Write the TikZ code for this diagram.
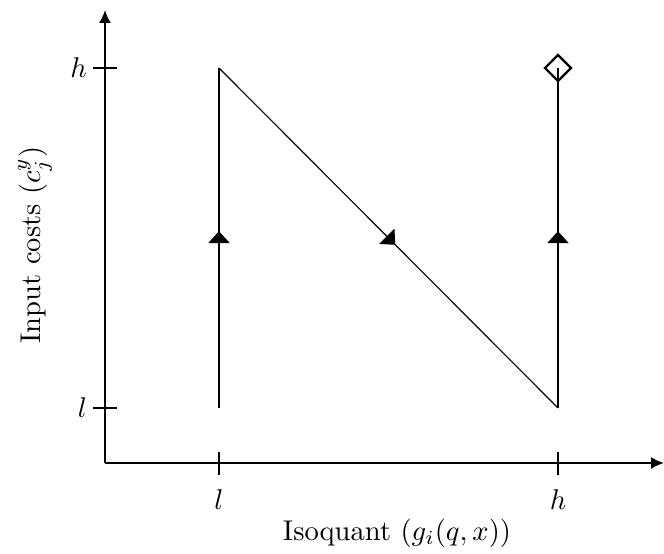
\documentclass[tikz,border=0pt]{standalone}
\usetikzlibrary{arrows.meta,decorations.markings,shapes.geometric}
\begin{document}
\begin{tikzpicture}[x=0.35pt, y=-0.35pt,
  axis/.style={thick, -{Latex[length=4.5pt, width=4.2pt]}},
  tick/.style={thin},
  path/.style={thin, postaction={decorate}, decoration={markings,
      mark=at position 0.52 with {\arrow{Triangle[length=4.2pt, width=7.5pt]}}}},
  endmark/.style={draw, diamond, thick, inner sep=0pt, minimum size=9.5pt}]
\useasboundingbox (0,0) rectangle (664,554);
% axes
\coordinate (o) at (105,463);
\coordinate (ytop) at (105,10);
\coordinate (xend) at (664,463);
\draw[axis] (o) -- (ytop);
\draw[axis] (o) -- (xend);
% ticks
\draw[tick] (219,452) -- (219,475) node[below=1.5pt] (xl) {$l$};
\draw[tick] (558,452) -- (558,475) node[below=1.5pt] (xh) {$h$};
\draw[tick] (93,408) -- (117,408);
\draw[tick] (93,68) -- (117,68);
\node[anchor=east] (yl) at (97,408) {$l$};
\node[anchor=east] (yh) at (97,68) {$h$};
% axis labels
\node (xlab) at (397,533) {Isoquant $(g_i(q,x))$};
\node[rotate=90] (ylab) at (35,245) {Input costs $(c_j^y)$};
% path
\coordinate (ll) at (219,408);
\coordinate (lh) at (219,68);
\coordinate (hl) at (558,408);
\coordinate (hh) at (558,68);
\draw[path] (ll) -- (lh);
\draw[path] (lh) -- (hl);
\draw[path] (hl) -- (hh);
\node[endmark] (fin) at (hh) {};
\end{tikzpicture}
\end{document}
